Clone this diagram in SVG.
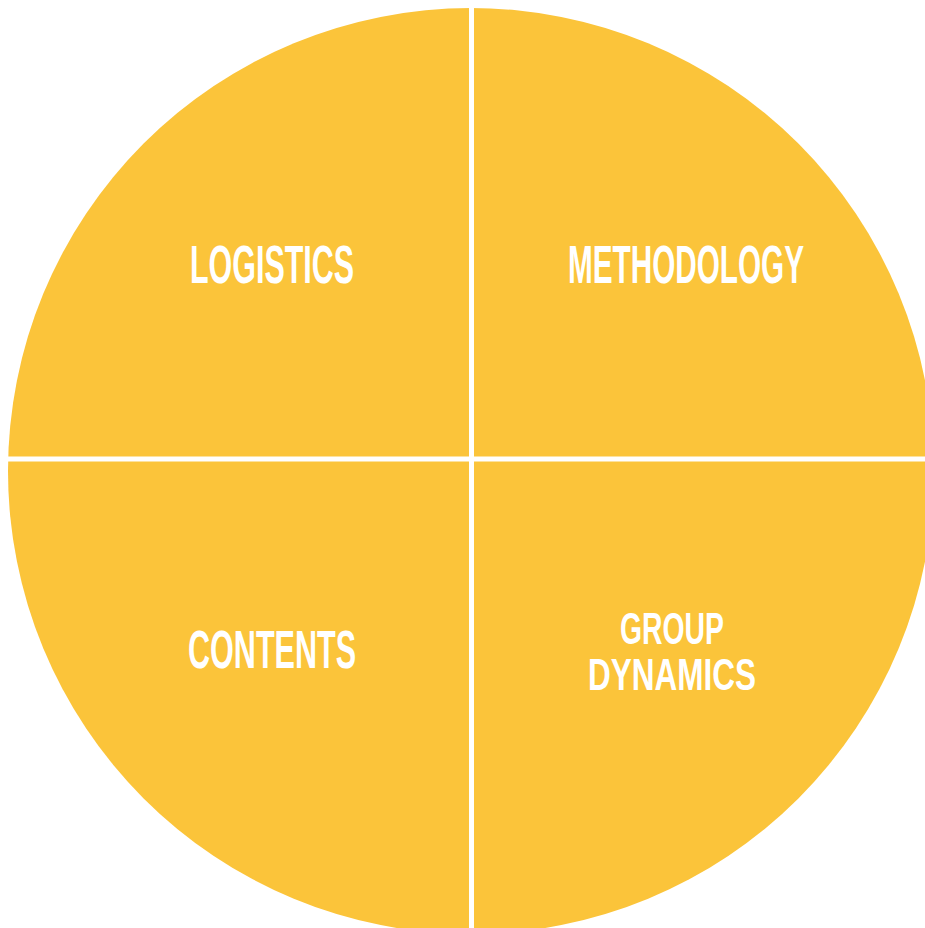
<svg xmlns="http://www.w3.org/2000/svg" width="925" height="928" viewBox="0 0 925 928">
<style>
.q{fill:#FBC43A}
.t{font-family:"Liberation Sans",Arial,sans-serif;font-weight:bold;fill:#FFFFFF;text-anchor:middle}
.big{font-size:53px}
.small{font-size:44px}
</style>
<rect width="925" height="928" fill="#FFFFFF"/>
<g id="circle">
<circle class="q" cx="471" cy="471" r="463"/>
</g>
<g id="connectors">
<rect x="469" y="0" width="5" height="928" fill="#FFFFFF"/>
<rect x="0" y="456.5" width="925" height="5" fill="#FFFFFF"/>
</g>
<g id="logistics"><text class="t big" x="272" y="283" textLength="164" lengthAdjust="spacingAndGlyphs">LOGISTICS</text></g>
<g id="methodology"><text class="t big" x="686" y="283" textLength="236" lengthAdjust="spacingAndGlyphs">METHODOLOGY</text></g>
<g id="contents"><text class="t big" x="272" y="668" textLength="168" lengthAdjust="spacingAndGlyphs">CONTENTS</text></g>
<g id="group-dynamics">
<text class="t small" x="672" y="644" textLength="104" lengthAdjust="spacingAndGlyphs">GROUP</text>
<text class="t small" x="672" y="690" textLength="168" lengthAdjust="spacingAndGlyphs">DYNAMICS</text>
</g>
</svg>
